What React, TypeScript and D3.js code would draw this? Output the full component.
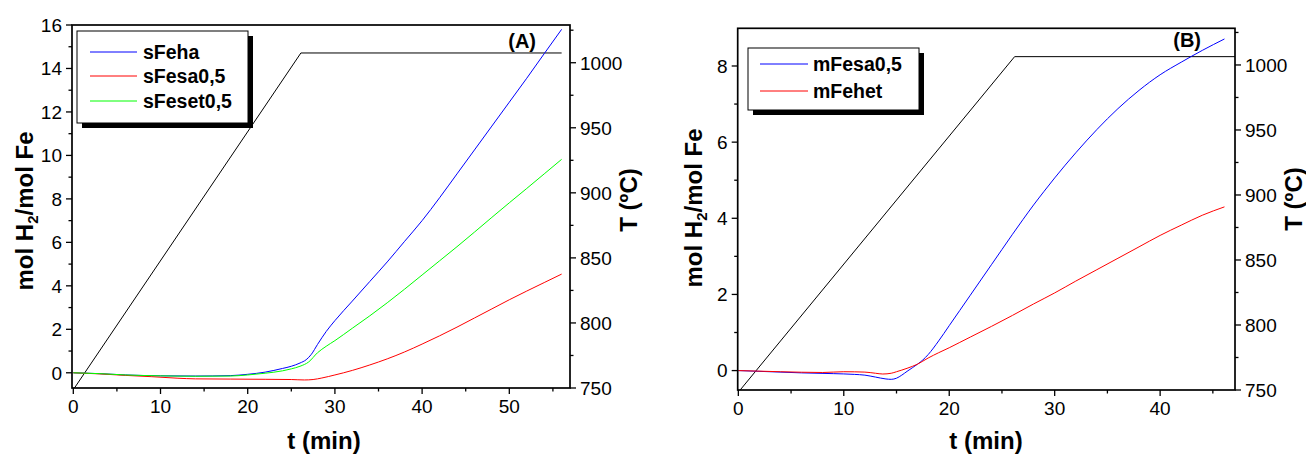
import React from "react";
import * as d3 from "d3";

// ---------- Panel A data ----------
const sFehaT = [0, 3, 6, 10, 14, 18, 20, 22, 24, 25, 26, 26.7, 27.3, 28, 29, 30, 32, 34, 36, 38, 40, 42, 44, 46, 48, 50, 52, 54, 56];
const sFehaV = [0, -0.04, -0.1, -0.14, -0.15, -0.13, -0.07, 0.03, 0.2, 0.3, 0.45, 0.6, 0.85, 1.3, 1.9, 2.4, 3.3, 4.2, 5.1, 6.05, 7.0, 8.05, 9.15, 10.25, 11.35, 12.45, 13.55, 14.68, 15.8];
const sFesaT = [0, 3, 6, 9, 12, 14, 18, 22, 25, 26.5, 27.5, 28.5, 30, 31, 32, 34, 36, 38, 40, 42, 44, 46, 48, 50, 52, 54, 56];
const sFesaV = [0, -0.05, -0.12, -0.18, -0.25, -0.28, -0.29, -0.3, -0.31, -0.33, -0.31, -0.24, -0.1, 0.0, 0.11, 0.36, 0.64, 0.96, 1.32, 1.7, 2.1, 2.52, 2.94, 3.36, 3.76, 4.15, 4.54];
const sFesetT = [0, 3, 6, 10, 14, 18, 20, 22, 24, 25, 26, 27, 28, 29, 30, 32, 34, 36, 38, 40, 42, 44, 46, 48, 50, 52, 54, 56];
const sFesetV = [0, -0.04, -0.1, -0.14, -0.16, -0.15, -0.1, -0.02, 0.09, 0.18, 0.3, 0.5, 0.92, 1.22, 1.48, 2.05, 2.62, 3.22, 3.85, 4.5, 5.15, 5.8, 6.47, 7.15, 7.82, 8.48, 9.15, 9.82];
const tempAT = [0, 26.1, 56.0];
const tempAV = [748.7, 1007.5, 1007.5];

// ---------- Panel B data ----------
const mFesaT = [0, 3, 6, 9, 11, 12, 13, 14, 14.5, 15, 15.5, 16, 17, 17.5, 18, 19, 20, 21, 22, 23, 24, 25, 26, 27, 28, 29, 30, 32, 34, 36, 38, 40, 42, 44, 46.1];
const mFesaV = [0, -0.03, -0.06, -0.08, -0.1, -0.12, -0.17, -0.22, -0.23, -0.2, -0.12, -0.02, 0.17, 0.28, 0.42, 0.78, 1.18, 1.58, 1.98, 2.38, 2.78, 3.18, 3.58, 3.97, 4.35, 4.71, 5.06, 5.72, 6.33, 6.88, 7.36, 7.77, 8.1, 8.41, 8.71];
const mFehetT = [0, 4, 8, 10, 12, 13, 13.7, 14.5, 15, 16, 17, 18, 19, 20, 21, 22, 24, 26, 28, 30, 32, 34, 36, 38, 40, 42, 44, 46.1];
const mFehetV = [0, -0.03, -0.05, -0.03, -0.04, -0.07, -0.09, -0.07, -0.03, 0.06, 0.17, 0.33, 0.47, 0.6, 0.74, 0.88, 1.16, 1.45, 1.75, 2.04, 2.35, 2.65, 2.95, 3.25, 3.55, 3.82, 4.08, 4.3];
const tempBT = [0, 26.2, 47.1];
const tempBV = [748.3, 1006.4, 1006.4];

// ---------- Ticks ----------
const xTicksA = [0, 10, 20, 30, 40, 50];
const xMinorA = [5, 15, 25, 35, 45, 55];
const yTicksA = [0, 2, 4, 6, 8, 10, 12, 14, 16];
const yMinorA = [1, 3, 5, 7, 9, 11, 13, 15];
const xTicksB = [0, 10, 20, 30, 40];
const xMinorB = [5, 15, 25, 35, 45];
const yTicksB = [0, 2, 4, 6, 8];
const yMinorB = [1, 3, 5, 7];
const tTicks = [750, 800, 850, 900, 950, 1000];
const tMinor = [775, 825, 875, 925, 975, 1025];

const legendA = ["sFeha", "sFesa0,5", "sFeset0,5"];
const legendB = ["mFesa0,5", "mFehet"];

const FONT = "'Liberation Sans', Arial, Helvetica, sans-serif";

type Series = { t: number[]; v: number[]; color: string };

type PanelProps = {
  id: string;
  left: number; right: number; top: number; bottom: number;
  xDom: [number, number]; yDom: [number, number]; tDom: [number, number];
  xTicks: number[]; xMinor: number[]; yTicks: number[]; yMinor: number[];
  series: Series[];
  temp: { t: number[]; v: number[] };
  legend: string[];
  legendBox: { x: number; y: number; w: number; h: number; rows: number[]; lx0: number; lx1: number; tx: number };
  label: string; labelX: number; labelY: number;
  yTitleX: number; yTitleY: number; tTitleX: number; tTitleY: number; xTitleX: number;
};

function Panel(p: PanelProps) {
  const x = d3.scaleLinear().domain(p.xDom).range([p.left, p.right]);
  const y = d3.scaleLinear().domain(p.yDom).range([p.bottom, p.top]);
  const yt = d3.scaleLinear().domain(p.tDom).range([p.bottom, p.top]);
  const clipId = "clip" + p.id;
  const mk = (s: Series) =>
    d3.line<number>().x((_, i) => x(s.t[i])).y((d) => y(d)).curve(d3.curveMonotoneX)(s.v) || "";
  const tempPath =
    d3.line<number>().x((_, i) => x(p.temp.t[i])).y((d) => yt(d))(p.temp.v) || "";
  const major = 6, minor = 3.5;
  const lb = p.legendBox;
  return (
    <g>
      <defs>
        <clipPath id={clipId}>
          <rect x={p.left} y={p.top} width={p.right - p.left} height={p.bottom - p.top} />
        </clipPath>
      </defs>
      <g clipPath={`url(#${clipId})`}>
        <path d={tempPath} fill="none" stroke="#000" strokeWidth={1} />
        {p.series.map((s, i) => (
          <path key={i} d={mk(s)} fill="none" stroke={s.color} strokeWidth={1} />
        ))}
      </g>
      <rect x={p.left} y={p.top} width={p.right - p.left} height={p.bottom - p.top} fill="none" stroke="#000" strokeWidth={1.7} />
      {p.xTicks.map((t) => (
        <g key={"xt" + t}>
          <line x1={x(t)} x2={x(t)} y1={p.bottom} y2={p.bottom + major} stroke="#000" strokeWidth={1.3} />
          <text x={x(t)} y={p.bottom + 25} fontSize={19} fontFamily={FONT} textAnchor="middle">{t}</text>
        </g>
      ))}
      {p.xMinor.map((t) => (
        <line key={"xm" + t} x1={x(t)} x2={x(t)} y1={p.bottom} y2={p.bottom + minor} stroke="#000" strokeWidth={1.3} />
      ))}
      {p.yTicks.map((t) => (
        <g key={"yt" + t}>
          <line x1={p.left - major} x2={p.left} y1={y(t)} y2={y(t)} stroke="#000" strokeWidth={1.3} />
          <text x={p.left - 10} y={y(t)} dy="0.36em" fontSize={19} fontFamily={FONT} textAnchor="end">{t}</text>
        </g>
      ))}
      {p.yMinor.map((t) => (
        <line key={"ym" + t} x1={p.left - minor} x2={p.left} y1={y(t)} y2={y(t)} stroke="#000" strokeWidth={1.3} />
      ))}
      {tTicks.map((t) => (
        <g key={"tt" + t}>
          <line x1={p.right} x2={p.right + major} y1={yt(t)} y2={yt(t)} stroke="#000" strokeWidth={1.3} />
          <text x={p.right + 10} y={yt(t)} dy="0.36em" fontSize={19} fontFamily={FONT} textAnchor="start">{t}</text>
        </g>
      ))}
      {tMinor.map((t) => (
        <line key={"tm" + t} x1={p.right} x2={p.right + minor} y1={yt(t)} y2={yt(t)} stroke="#000" strokeWidth={1.3} />
      ))}
      <rect x={lb.x + 5} y={lb.y + 5} width={lb.w} height={lb.h} fill="#000" />
      <rect x={lb.x} y={lb.y} width={lb.w} height={lb.h} fill="#fff" stroke="#000" strokeWidth={1} />
      {p.legend.map((name, i) => (
        <g key={name}>
          <line x1={lb.lx0} x2={lb.lx1} y1={lb.rows[i]} y2={lb.rows[i]} stroke={p.series[i].color} strokeWidth={1} />
          <text x={lb.tx} y={lb.rows[i]} dy="0.36em" fontSize={19.5} fontWeight="bold" fontFamily={FONT}>{name}</text>
        </g>
      ))}
      <text x={p.labelX} y={p.labelY} fontSize={20} fontWeight="bold" fontFamily={FONT} textAnchor="end">{p.label}</text>
      <text x={p.xTitleX} y={449} fontSize={24} fontWeight="bold" fontFamily={FONT} textAnchor="middle">t (min)</text>
      <text transform={`translate(${p.yTitleX},${p.yTitleY}) rotate(-90)`} fontSize={24} fontWeight="bold" fontFamily={FONT} textAnchor="middle">
        mol H<tspan fontSize={15} dy={5}>2</tspan><tspan dy={-5}>/mol Fe</tspan>
      </text>
      <text transform={`translate(${p.tTitleX},${p.tTitleY}) rotate(-90)`} fontSize={24} fontWeight="bold" fontFamily={FONT} textAnchor="middle">
        T (ºC)
      </text>
    </g>
  );
}

export default function App() {
  return (
    <svg width={1306} height={458} style={{ position: "absolute", left: 0, top: 0, background: "#fff" }}>
      <rect x={0} y={0} width={1306} height={458} fill="#fff" />
      <Panel
        id="A"
        left={72} right={570} top={25} bottom={388}
        xDom={[-0.15, 56.96]} yDom={[-0.7, 16]} tDom={[750, 1029]}
        xTicks={xTicksA} xMinor={xMinorA} yTicks={yTicksA} yMinor={yMinorA}
        series={[
          { t: sFehaT, v: sFehaV, color: "#0000ff" },
          { t: sFesaT, v: sFesaV, color: "#ff0000" },
          { t: sFesetT, v: sFesetV, color: "#00ff00" },
        ]}
        temp={{ t: tempAT, v: tempAV }}
        legend={legendA}
        legendBox={{ x: 77, y: 31, w: 171, h: 92, rows: [52, 76, 101], lx0: 90, lx1: 137, tx: 143 }}
        label="(A)" labelX={536} labelY={48}
        yTitleX={33} yTitleY={211} tTitleX={637} tTitleY={200} xTitleX={324}
      />
      <Panel
        id="B"
        left={737.7} right={1235} top={28.3} bottom={390}
        xDom={[-0.06, 47.1]} yDom={[-0.51, 8.99]} tDom={[750, 1028.2]}
        xTicks={xTicksB} xMinor={xMinorB} yTicks={yTicksB} yMinor={yMinorB}
        series={[
          { t: mFesaT, v: mFesaV, color: "#0000ff" },
          { t: mFehetT, v: mFehetV, color: "#ff0000" },
        ]}
        temp={{ t: tempBT, v: tempBV }}
        legend={legendB}
        legendBox={{ x: 748, y: 48, w: 171, h: 62, rows: [64, 91], lx0: 760, lx1: 808, tx: 813 }}
        label="(B)" labelX={1201} labelY={47}
        yTitleX={702} yTitleY={208} tTitleX={1302} tTitleY={199} xTitleX={986}
      />
    </svg>
  );
}
